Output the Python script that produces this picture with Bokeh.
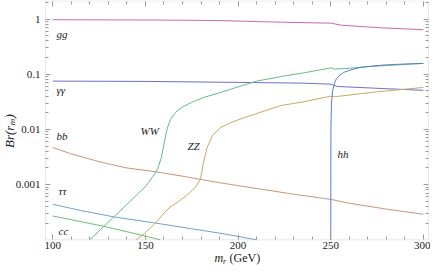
import math
from bokeh.plotting import figure
from bokeh.models import (LogAxis, LinearAxis, FixedTicker, CustomJSTickFormatter,
                          Label, Range1d, BoxAnnotation)
from bokeh.embed import file_html
from bokeh.resources import INLINE

# ---------------- data ----------------
m_gg = [100, 150, 187, 205, 223, 250, 256, 278, 300]
br_gg = [0.97, 0.96, 0.94, 0.91, 0.875, 0.84, 0.77, 0.69, 0.64]

m_aa = [100, 150, 200, 234, 250, 253.5, 278, 300]
br_aa = [0.075, 0.074, 0.071, 0.069, 0.066, 0.060, 0.055, 0.051]

m_ww = [120, 130, 140, 150, 154, 156.5, 158.5, 160, 161, 162, 163.5, 165, 167, 170,
        175, 181.5, 190, 200, 210, 225, 235, 250, 252, 260, 270, 285, 300]
br_ww = [1.0e-4, 2.1e-4, 4.4e-4, 9.2e-4, 1.4e-3, 1.9e-3, 3.0e-3, 5.4e-3, 8e-3, 1.1e-2,
         1.5e-2, 1.8e-2, 2.15e-2, 2.55e-2, 3.1e-2, 3.8e-2, 4.6e-2, 5.9e-2, 7.5e-2,
         9.3e-2, 0.105, 0.130, 0.124, 0.128, 0.137, 0.147, 0.157]

m_zz = [145, 150, 155, 162, 168, 173, 177, 179.7, 181.5, 183.3, 186, 190.5, 196, 203.5,
        215, 223, 234, 250, 252, 275, 300]
br_zz = [1.0e-4, 1.35e-4, 1.95e-4, 3.6e-4, 5.0e-4, 6.7e-4, 9e-4, 1.25e-3, 2.7e-3, 4.7e-3,
         7.6e-3, 0.0108, 0.0133, 0.0164, 0.022, 0.027, 0.031, 0.040, 0.039, 0.048, 0.0575]

m_hh = [250, 250.1, 250.4, 251, 252, 253, 255, 257, 261, 266, 272, 279, 290, 300]
br_hh = [1.0e-4, 0.01, 0.03, 0.05, 0.068, 0.082, 0.097, 0.108, 0.12, 0.133, 0.14, 0.147,
         0.153, 0.157]

m_bb = [100, 110, 125, 140, 155, 170, 190, 210, 230, 250, 260, 280, 300]
br_bb = [0.0047, 0.0036, 0.0026, 0.0020, 0.00172, 0.00142, 0.00108, 0.00085, 0.00067,
         0.00054, 0.00046, 0.00036, 0.00029]

m_tt = [100, 115, 133, 158, 175, 190, 200, 210]
br_tt = [0.00044, 0.00034, 0.00026, 0.000195, 0.000158, 0.000132, 0.000115, 0.0001]

m_cc = [100, 113, 126, 142, 158]
br_cc = [0.00027, 0.00022, 0.00018, 0.000135, 0.0001]

x_ticks = [100, 150, 200, 250, 300]
y_ticks = [0.001, 0.01, 0.1, 1]

# ---------------- layout: canvas pixel <-> data ----------------
W, H = 430, 268
PX_PER_GEV = 1.853
X_AT_PX = (52.3, 100.0)    # pixel x of m = 100
PX_PER_DEC = 55.2
Y_AT_PX = (239.3, -4.0)    # pixel y of Br = 1e-4


def mx(px):
    return X_AT_PX[1] + (px - X_AT_PX[0]) / PX_PER_GEV


def by(py):
    return 10 ** (Y_AT_PX[1] - (py - Y_AT_PX[0]) / PX_PER_DEC)


# inner (drawn) frame
F_LEFT, F_RIGHT = mx(45), mx(428)
F_BOTTOM, F_TOP = by(239.3), by(0.5)

SERIF = "'Liberation Serif', serif"
TICK_COLOR = "#9a9a9a"
TEXT_COLOR = "#222222"

p = figure(width=W, height=H, x_range=Range1d(mx(0), mx(W)),
           y_range=Range1d(by(H), by(0)), y_axis_type="log",
           output_backend="svg", toolbar_location=None,
           min_border_left=0, min_border_right=0, min_border_top=0,
           min_border_bottom=0, background_fill_color="white",
           border_fill_color="white")
p.xgrid.visible = False
p.ygrid.visible = False
p.outline_line_color = None

p.add_layout(BoxAnnotation(left=F_LEFT, right=F_RIGHT, bottom=F_BOTTOM, top=F_TOP,
                           fill_alpha=0, line_color="#b0b0b0", line_width=1))

x_minor = [v for v in range(100, 301, 10) if v not in x_ticks]
y_minor = [k * 10.0 ** e for e in range(-4, 1) for k in range(2, 10)
           if k * 10.0 ** e < F_TOP]


def style(ax, labels):
    ax.axis_line_color = None
    ax.major_tick_in = 5
    ax.major_tick_out = 0
    ax.minor_tick_in = 3
    ax.minor_tick_out = 0
    ax.major_tick_line_color = TICK_COLOR
    ax.minor_tick_line_color = TICK_COLOR
    if labels:
        ax.major_label_text_font = SERIF
        ax.major_label_text_font_size = "11px"
        ax.major_label_text_color = TEXT_COLOR
    else:
        ax.major_label_text_font_size = "0px"
        ax.major_label_standoff = 0
        ax.formatter = CustomJSTickFormatter(code="return ''")


xa = p.xaxis[0]
xa.ticker = FixedTicker(ticks=x_ticks, minor_ticks=x_minor)
xa.fixed_location = F_BOTTOM
xa.bounds = (F_LEFT, F_RIGHT)
style(xa, True)
xa.major_label_standoff = 2

ya = p.yaxis[0]
ya.ticker = FixedTicker(ticks=y_ticks, minor_ticks=y_minor)
ya.formatter = CustomJSTickFormatter(code="return tick.toString()")
ya.fixed_location = F_LEFT
ya.bounds = (F_BOTTOM, F_TOP)
style(ya, True)
ya.major_label_standoff = 5

top = LinearAxis(ticker=FixedTicker(ticks=x_ticks, minor_ticks=x_minor),
                 fixed_location=F_TOP, bounds=(F_LEFT, F_RIGHT))
style(top, False)
p.add_layout(top, "above")
right = LogAxis(ticker=FixedTicker(ticks=y_ticks, minor_ticks=y_minor),
                fixed_location=F_RIGHT, bounds=(F_BOTTOM, F_TOP))
style(right, False)
p.add_layout(right, "right")

series = [
    (m_gg, br_gg, "#c96aa2"),
    (m_aa, br_aa, "#6f6fc6"),
    (m_bb, br_bb, "#c9957a"),
    (m_tt, br_tt, "#6fa3cc"),
    (m_cc, br_cc, "#6cbf70"),
    (m_ww, br_ww, "#62bf84"),
    (m_zz, br_zz, "#c8ab62"),
    (m_hh, br_hh, "#5b7dc8"),
]
for xs, ys, col in series:
    p.line(xs, ys, line_color=col, line_width=1.0)

# curve labels
LBL = dict(text_font=SERIF, text_font_style="italic",
           text_font_size="11px", text_color=TEXT_COLOR, text_baseline="middle",
           text_align="left")
for txt, px, py in [("gg", 56, 33), ("γγ", 56, 89), ("bb", 56, 135),
                    ("ττ", 58, 190), ("cc", 58, 230), ("WW", 140, 130),
                    ("ZZ", 187, 145), ("hh", 337, 153)]:
    p.add_layout(Label(x=mx(px), y=by(py), text=txt, **LBL))

# x axis title: m_r (GeV)
T = dict(text_font=SERIF, text_color=TEXT_COLOR, text_align="left")
p.add_layout(Label(x=mx(214), y=by(257.5), text="m", text_font_style="italic",
                   text_font_size="12px", text_baseline="middle", **T))
p.add_layout(Label(x=mx(222.5), y=by(260.5), text="r", text_font_style="italic",
                   text_font_size="8px", text_baseline="middle", **T))
p.add_layout(Label(x=mx(229), y=by(257.5), text="(GeV)", text_font_size="12px",
                   text_baseline="middle", **T))

# y axis title: Br(r_m), rotated (reads bottom to top)
p.add_layout(Label(x=mx(9), y=by(147.5), text="Br(r", text_font_style="italic",
                   text_font_size="13px", angle=math.pi / 2,
                   text_baseline="alphabetic", **T))
p.add_layout(Label(x=mx(11.5), y=by(124.8), text="m", text_font_style="italic",
                   text_font_size="9px", angle=math.pi / 2,
                   text_baseline="alphabetic", **T))
p.add_layout(Label(x=mx(9), y=by(118), text=")", text_font_style="italic",
                   text_font_size="13px", angle=math.pi / 2,
                   text_baseline="alphabetic", **T))

open("out.html", "w").write(file_html(p, INLINE))
